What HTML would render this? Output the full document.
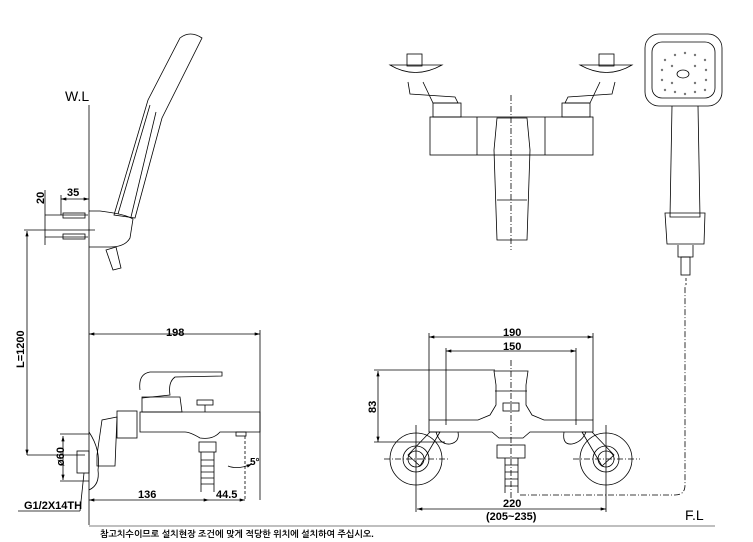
<!DOCTYPE html>
<html><head><meta charset="utf-8"><style>
html,body{margin:0;padding:0;background:#fff;width:753px;height:542px;overflow:hidden}
svg{display:block}
text{font-family:"Liberation Sans",Arial,sans-serif;fill:#000}
</style></head><body>
<svg width="753" height="542" viewBox="0 0 753 542" xmlns="http://www.w3.org/2000/svg">
<defs>
<marker id="a" viewBox="0 0 10 6" refX="10" refY="3" markerWidth="8" markerHeight="4" orient="auto-start-reverse"><path d="M0,0L10,3L0,6z" fill="#000"/></marker>
</defs>
<g stroke="#000" stroke-width="0.8" fill="none">
<!-- W.L wall line -->
<line x1="89" y1="105" x2="89" y2="525"/>
<line x1="89" y1="526" x2="715" y2="526" stroke="#999" stroke-width="1.2"/>
<!-- L=1200 -->
<line x1="27" y1="231" x2="27" y2="455" marker-start="url(#a)" marker-end="url(#a)"/>
<line x1="24" y1="230" x2="95" y2="230"/>
<line x1="27" y1="455" x2="85" y2="455"/>
<!-- 20 / 35 dims -->
<line x1="45" y1="190" x2="45" y2="245"/>
<line x1="45" y1="215" x2="88" y2="215"/>
<line x1="45" y1="237" x2="88" y2="237"/>
<line x1="61" y1="199" x2="89" y2="199" marker-start="url(#a)" marker-end="url(#a)"/>
<line x1="61" y1="195" x2="61" y2="215"/>
<!-- anchors -->
<rect x="63" y="213" width="22" height="5"/><rect x="63" y="234" width="22" height="5"/>
<!-- bracket -->
<path d="M89,211 L100,211 Q125,214 133,219 L130,238 Q125,247 110,247 L89,247"/>
<!-- handset side -->
<path d="M114,215 L148,100 L180,38 Q190,30 202,38 L162,118 L135,218 Z"/>
<path d="M118,214 L150,105 M131,217 L156,112"/>
<path d="M106,250 L113,270 L121,268 L116,247 Z"/>
<!-- side faucet view -->
<line x1="89" y1="334" x2="260" y2="334" marker-start="url(#a)" marker-end="url(#a)"/>
<line x1="260" y1="330" x2="260" y2="500"/>
<path d="M89,432 Q101,450 98,470 Q100,485 89,490"/>
<rect x="77" y="451" width="12" height="22"/>
<path d="M97,455 L102,420 L117,417 L115,466 L97,466 Z"/>
<rect x="117" y="411" width="20" height="27"/>
<path d="M140,412 L260,412 L260,432 L220,432 Q213,440 200,438 Q190,432 185,432 L140,432 Z"/>
<path d="M142,397 L180,397 L182,412 L142,412 Z"/>
<path d="M140,390 Q138,374 150,372 L222,372 L222,376 L175,377 Q168,382 170,395 L142,398"/>
<rect x="197" y="400" width="16" height="5"/><line x1="205" y1="405" x2="205" y2="412"/>
<rect x="199" y="442" width="17" height="10"/>
<path d="M201,452 L201,492 M214,452 L214,492"/>
<path d="M201,460 L214,460 M201,466 L214,466 M201,472 L214,472 M201,478 L214,478 M201,484 L214,484"/>
<rect x="236" y="432" width="10" height="4"/>
<line x1="245" y1="436" x2="245" y2="500" stroke-dasharray="3,2"/>
<path d="M228,466 Q238,470 252,464" marker-end="url(#a)"/>
<line x1="89" y1="500" x2="209" y2="500" marker-start="url(#a)" marker-end="url(#a)"/>
<line x1="209" y1="500" x2="245" y2="500" marker-end="url(#a)"/>
<line x1="63" y1="436" x2="63" y2="480" marker-start="url(#a)" marker-end="url(#a)"/>
<line x1="60" y1="434" x2="89" y2="434"/><line x1="60" y1="481" x2="89" y2="481"/>
<line x1="18" y1="511" x2="80" y2="511"/><line x1="80" y1="511" x2="84" y2="473"/>
<!-- front top view -->
<line x1="511" y1="95" x2="511" y2="250" stroke-dasharray="6,2,1,2"/>
<rect x="430" y="117" width="163" height="38"/>
<line x1="477" y1="117" x2="477" y2="155"/><line x1="545" y1="117" x2="545" y2="155"/>
<path d="M497,118 L527,118 L530,150 L527,240 L497,240 L494,150 Z"/>
<line x1="497" y1="200" x2="527" y2="200"/>
<rect x="433" y="103" width="28" height="14"/><rect x="562" y="103" width="28" height="14"/>
<path d="M408,82 L410,94 L455,97 L458,103 L433,103 L423,82"/>
<path d="M615,82 L612,94 L568,97 L565,103 L590,103 L600,82"/>
<path d="M390,65 Q415,80 442,65 Z"/><path d="M580,65 Q607,80 632,65 Z"/>
<rect x="407" y="54" width="15" height="12"/><rect x="599" y="54" width="15" height="12"/>
<!-- shower front -->
<rect x="645" y="34" width="77" height="72" rx="14"/>
<rect x="652" y="42" width="63" height="56" rx="10"/>
<path d="M672,106 L670,217 L700,217 L698,106"/>
<path d="M665,213 L705,213 L704,244 L667,244 Z"/>
<path d="M678,245 L678,257 L693,257 L693,245"/>
<rect x="681" y="257" width="9" height="18"/>
<ellipse cx="683" cy="74" rx="6" ry="4"/>
<path d="M686,278 L686,285" stroke-dasharray="3,2"/>
<!-- front lower view -->
<line x1="429" y1="337" x2="593" y2="337" marker-start="url(#a)" marker-end="url(#a)"/>
<line x1="446" y1="351" x2="576" y2="351" marker-start="url(#a)" marker-end="url(#a)"/>
<line x1="429" y1="333" x2="429" y2="420"/><line x1="593" y1="333" x2="593" y2="420"/>
<line x1="446" y1="348" x2="446" y2="425"/><line x1="576" y1="348" x2="576" y2="425"/>
<line x1="378" y1="371" x2="378" y2="442" marker-start="url(#a)" marker-end="url(#a)"/>
<line x1="374" y1="370" x2="495" y2="370"/><line x1="374" y1="442" x2="445" y2="442"/>
<line x1="511" y1="360" x2="511" y2="500" stroke-dasharray="6,2,1,2"/>
<path d="M494,371 L528,371 L526,385 L526,405 L532,415 L544,420 L593,420 L593,432 L530,432 L523,438 L499,438 L492,432 L429,432 L429,420 L478,420 L490,415 L496,405 L496,385 Z"/>
<line x1="495" y1="391" x2="527" y2="391"/>
<rect x="503" y="403" width="16" height="8"/>
<rect x="497" y="445" width="28" height="13"/>
<path d="M505,458 L505,493 M518,458 L518,493 M505,465 L518,465 M505,472 L518,472 M505,479 L518,479 M505,486 L518,486"/>
<circle cx="416" cy="459" r="26"/><circle cx="416" cy="459" r="13"/><circle cx="416" cy="459" r="8"/>
<circle cx="606" cy="459" r="26"/><circle cx="606" cy="459" r="13"/><circle cx="606" cy="459" r="8"/>
<path d="M408,455 L430,432 L440,432 L420,466 Z"/><path d="M614,455 L592,432 L582,432 L602,466 Z"/>
<path d="M436,432 Q440,445 450,444 Q460,442 458,432"/><path d="M564,432 Q562,445 572,444 Q582,442 586,432"/>
<line x1="384" y1="459" x2="450" y2="459" stroke-dasharray="6,2,1,2"/><line x1="573" y1="459" x2="640" y2="459" stroke-dasharray="6,2,1,2"/>
<line x1="416" y1="425" x2="416" y2="512"/><line x1="606" y1="425" x2="606" y2="512"/>
<line x1="417" y1="509" x2="606" y2="509" marker-start="url(#a)" marker-end="url(#a)"/>
<path d="M520,495 L675,495 Q685,495 685,485 L685,285" stroke-dasharray="6,2,1,2"/>
</g>
<g fill="#777">
<circle cx="665" cy="60" r="1.2"/><circle cx="675" cy="55" r="1.2"/><circle cx="685" cy="53" r="1.2"/><circle cx="695" cy="55" r="1.2"/><circle cx="705" cy="60" r="1.2"/>
<circle cx="662" cy="70" r="1.2"/><circle cx="672" cy="66" r="1.2"/><circle cx="695" cy="66" r="1.2"/><circle cx="706" cy="70" r="1.2"/>
<circle cx="662" cy="80" r="1.2"/><circle cx="672" cy="83" r="1.2"/><circle cx="695" cy="83" r="1.2"/><circle cx="706" cy="80" r="1.2"/>
<circle cx="665" cy="90" r="1.2"/><circle cx="675" cy="92" r="1.2"/><circle cx="685" cy="94" r="1.2"/><circle cx="695" cy="92" r="1.2"/><circle cx="705" cy="90" r="1.2"/>
</g>
<text x="65" y="101" font-size="14">W.L</text>
<text x="67" y="196" font-size="11" font-weight="bold">35</text>
<text x="0" y="0" font-size="11" font-weight="bold" transform="translate(44,204) rotate(-90)">20</text>
<text x="0" y="0" font-size="11" font-weight="bold" transform="translate(24,368) rotate(-90)">L=1200</text>
<text x="166" y="336" font-size="11" font-weight="bold">198</text>
<text x="138" y="498" font-size="11" font-weight="bold">136</text>
<text x="216" y="498" font-size="11" font-weight="bold">44.5</text>
<text x="250" y="465" font-size="10" font-weight="bold">5°</text>
<text x="0" y="0" font-size="11" font-weight="bold" transform="translate(64,466) rotate(-90)">ø60</text>
<text x="24" y="509" font-size="11" font-weight="bold">G1/2X14TH</text>
<text x="503" y="336" font-size="11" font-weight="bold">190</text>
<text x="503" y="350" font-size="11" font-weight="bold">150</text>
<text x="0" y="0" font-size="11" font-weight="bold" transform="translate(376,413) rotate(-90)">83</text>
<text x="503" y="507" font-size="11" font-weight="bold">220</text>
<text x="486" y="520" font-size="11" font-weight="bold">(205~235)</text>
<text x="685" y="520" font-size="14">F.L</text>
<text x="100" y="537" font-size="9" font-weight="bold" style='font-family:"Liberation Sans","NanumGothic","Noto Sans CJK KR",sans-serif'>참고치수이므로 설치현장 조건에 맞게 적당한 위치에 설치하여 주십시오.</text>
</svg>
</body></html>
